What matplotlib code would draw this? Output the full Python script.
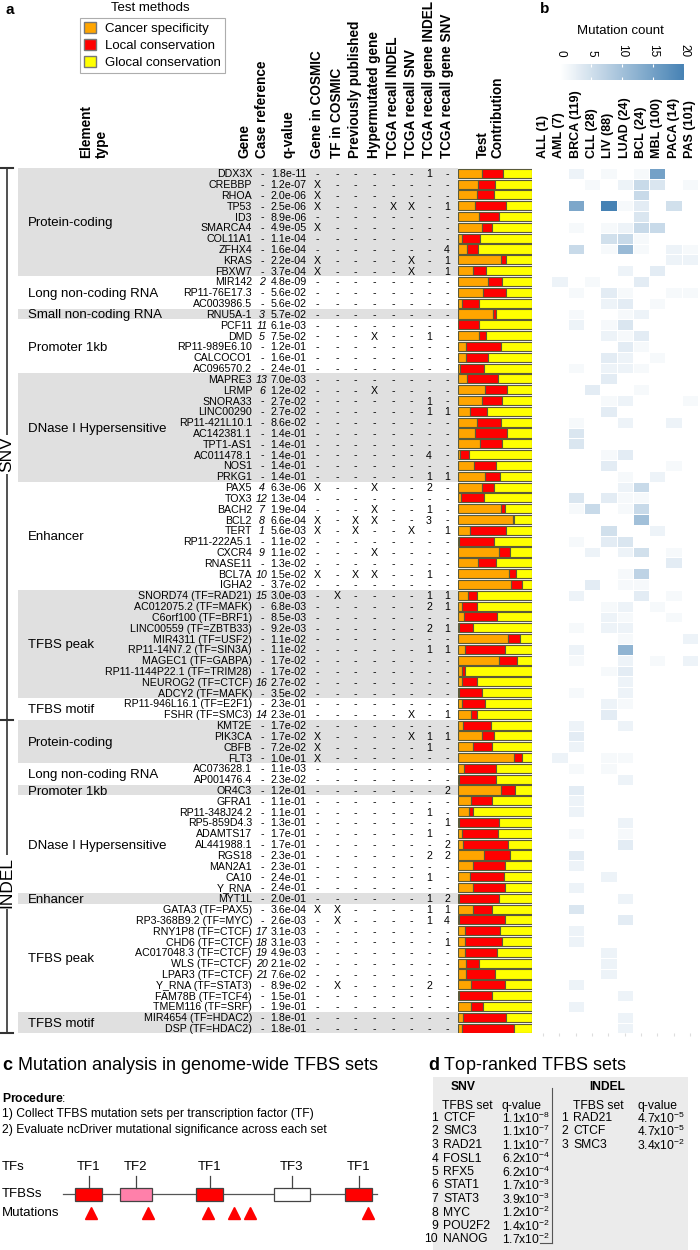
import numpy as np
import matplotlib
matplotlib.use('Agg')
import matplotlib.pyplot as plt
from matplotlib.patches import Patch, Rectangle
from matplotlib.colors import LinearSegmentedColormap

plt.rcParams['font.family'] = ['Liberation Sans', 'DejaVu Sans']
plt.rcParams['mathtext.fontset'] = 'custom'
plt.rcParams['mathtext.rm'] = 'Liberation Sans'
plt.rcParams['mathtext.it'] = 'Liberation Sans:italic'
plt.rcParams['mathtext.bf'] = 'Liberation Sans:bold'

# ---------------- data ----------------
groups_snv = [("Protein-coding", 10), ("Long non-coding RNA", 3), ("Small non-coding RNA", 1),
              ("Promoter 1kb", 5), ("DNase I Hypersensitive", 10), ("Enhancer", 10),
              ("TFBS peak", 10), ("TFBS motif", 2)]
groups_indel = [("Protein-coding", 4), ("Long non-coding RNA", 2), ("Promoter 1kb", 1),
                ("DNase I Hypersensitive", 9), ("Enhancer", 1), ("TFBS peak", 10), ("TFBS motif", 2)]

genes = ["DDX3X", "CREBBP", "RHOA", "TP53", "ID3", "SMARCA4", "COL11A1", "ZFHX4", "KRAS", "FBXW7",
         "MIR142", "RP11-76E17.3", "AC003986.5",
         "RNU5A-1",
         "PCF11", "DMD", "RP11-989E6.10", "CALCOCO1", "AC096570.2",
         "MAPRE3", "LRMP", "SNORA33", "LINC00290", "RP11-421L10.1", "AC142381.1", "TPT1-AS1",
         "AC011478.1", "NOS1", "PRKG1",
         "PAX5", "TOX3", "BACH2", "BCL2", "TERT", "RP11-222A5.1", "CXCR4", "RNASE11", "BCL7A", "IGHA2",
         "SNORD74 (TF=RAD21)", "AC012075.2 (TF=MAFK)", "C6orf100 (TF=BRF1)", "LINC00559 (TF=ZBTB33)",
         "MIR4311 (TF=USF2)", "RP11-14N7.2 (TF=SIN3A)", "MAGEC1 (TF=GABPA)", "RP11-1144P22.1 (TF=TRIM28)",
         "NEUROG2 (TF=CTCF)", "ADCY2 (TF=MAFK)",
         "RP11-946L16.1 (TF=E2F1)", "FSHR (TF=SMC3)",
         "KMT2E", "PIK3CA", "CBFB", "FLT3",
         "AC073628.1", "AP001476.4",
         "OR4C3",
         "GFRA1", "RP11-348J24.2", "RP5-859D4.3", "ADAMTS17", "AL441988.1", "RGS18", "MAN2A1", "CA10", "Y_RNA",
         "MYT1L",
         "GATA3 (TF=PAX5)", "RP3-368B9.2 (TF=MYC)", "RNY1P8 (TF=CTCF)", "CHD6 (TF=CTCF)",
         "AC017048.3 (TF=CTCF)", "WLS (TF=CTCF)", "LPAR3 (TF=CTCF)", "Y_RNA (TF=STAT3)",
         "FAM78B (TF=TCF4)", "TMEM116 (TF=SRF)",
         "MIR4654 (TF=HDAC2)", "DSP (TF=HDAC2)"]

case_ref = ["-"] * 10 + ["2", "-", "-"] + ["3"] + ["11", "5", "-", "-", "-"] + \
           ["13", "6", "-", "-", "-", "-", "-", "-", "-", "-"] + \
           ["4", "12", "7", "8", "1", "-", "9", "-", "10", "-"] + \
           ["15", "-", "-", "-", "-", "-", "-", "-", "16", "-"] + ["-", "14"] + \
           ["-"] * 4 + ["-"] * 2 + ["-"] + ["-"] * 9 + ["-"] + \
           ["-", "-", "17", "18", "19", "20", "21", "-", "-", "-"] + ["-", "-"]

qvalues = ["1.8e-11", "1.2e-07", "2.0e-06", "2.5e-06", "8.9e-06", "4.9e-05", "1.1e-04", "1.6e-04", "2.2e-04", "3.7e-04",
           "4.8e-09", "5.6e-02", "5.6e-02",
           "5.7e-02",
           "6.1e-03", "7.5e-02", "1.2e-01", "1.6e-01", "2.4e-01",
           "7.0e-03", "1.2e-02", "2.7e-02", "2.7e-02", "8.6e-02", "1.4e-01", "1.4e-01", "1.4e-01", "1.4e-01", "1.4e-01",
           "6.3e-06", "1.3e-04", "1.9e-04", "6.6e-04", "5.6e-03", "1.1e-02", "1.1e-02", "1.3e-02", "1.5e-02", "3.7e-02",
           "3.0e-03", "6.8e-03", "8.5e-03", "9.2e-03", "1.1e-02", "1.1e-02", "1.7e-02", "1.7e-02", "2.7e-02", "3.5e-02",
           "2.3e-01", "2.3e-01",
           "1.7e-02", "1.7e-02", "7.2e-02", "1.0e-01",
           "1.1e-03", "2.3e-02",
           "1.2e-01",
           "1.1e-01", "1.1e-01", "1.3e-01", "1.7e-01", "1.7e-01", "2.3e-01", "2.3e-01", "2.4e-01", "2.4e-01",
           "2.0e-01",
           "3.6e-04", "2.6e-03", "3.1e-03", "3.1e-03", "4.9e-03", "2.1e-02", "7.6e-02", "8.9e-02", "1.5e-01", "1.9e-01",
           "1.8e-01", "1.8e-01"]

# Gene in COSMIC, TF in COSMIC, Prev. published, Hypermutated, TCGA INDEL, TCGA SNV, TCGA gene INDEL, TCGA gene SNV
flags = ["------1-", "X-------", "X-------", "X---XX-1", "--------", "X-------", "--------", "-------4",
         "X----X-1", "X----X-1",
         "--------", "--------", "--------",
         "--------",
         "--------", "---X--1-", "--------", "--------", "--------",
         "--------", "---X----", "------1-", "------11", "--------", "--------", "--------", "------4-",
         "--------", "------11",
         "X--X--2-", "--------", "---X--1-", "X-XX--3-", "X-X--X-1", "--------", "---X----", "--------",
         "X-XX--1-", "--------",
         "-X----11", "------21", "--------", "------21", "--------", "------11", "--------", "--------",
         "--------", "--------",
         "--------", "-----X-1",
         "--------", "X----X11", "X-----1-", "X-------",
         "--------", "--------",
         "-------2",
         "--------", "------1-", "-------1", "------1-", "-------2", "------22", "--------", "------1-", "--------",
         "------12",
         "XX----11", "-X----14", "--------", "-------1", "--------", "--------", "--------", "-X----2-",
         "--------", "--------",
         "--------", "--------"]

flag_headers = ["Gene in COSMIC", "TF in COSMIC", "Previously published", "Hypermutated gene",
                "TCGA recall INDEL", "TCGA recall SNV", "TCGA recall gene INDEL", "TCGA recall gene SNV"]

# test contribution fractions
cancer_spec = [0.32, 0.27, 0.26, 0.23, 0.28, 0.32, 0.05, 0.12, 0.58, 0.20,
               0.41, 0.34, 0.05,
               0.47,
               0.00, 0.28, 0.11, 0.11, 0.03,
               0.12, 0.37, 0.32, 0.16, 0.26, 0.23, 0.30, 0.03, 0.22, 0.37,
               0.32, 0.04, 0.58, 0.74, 0.16, 0.01, 0.55, 0.27, 0.69, 0.72,
               0.14, 0.06, 0.08, 0.01, 0.68, 0.10, 0.56, 0.05, 0.05, 0.01,
               0.05, 0.17,
               0.07, 0.32, 0.20, 0.76,
               0.08, 0.02,
               0.58,
               0.17, 0.15, 0.01, 0.06, 0.07, 0.35, 0.20, 0.16, 0.20,
               0.01,
               0.20, 0.02, 0.10, 0.09, 0.09, 0.11, 0.11, 0.17, 0.02, 0.17,
               0.07, 0.06]
local_cons = [0.29, 0.23, 0.22, 0.42, 0.28, 0.14, 0.25, 0.15, 0.07, 0.18,
              0.18, 0.31, 0.24,
              0.05,
              0.28, 0.10, 0.47, 0.29, 0.32,
              0.42, 0.29, 0.27, 0.23, 0.32, 0.43, 0.30, 0.12, 0.29, 0.20,
              0.16, 0.31, 0.05, 0.02, 0.49, 0.48, 0.15, 0.25, 0.10, 0.14,
              0.11, 0.20, 0.45, 0.19, 0.16, 0.54, 0.24, 0.05, 0.21, 0.32,
              0.31, 0.08,
              0.37, 0.16, 0.26, 0.10,
              0.43, 0.50,
              0.19,
              0.29, 0.05, 0.54, 0.48, 0.61, 0.35, 0.44, 0.46, 0.44,
              0.54,
              0.26, 0.62, 0.47, 0.51, 0.44, 0.17, 0.39, 0.46, 0.44, 0.17,
              0.58, 0.69]

cohorts = ["ALL (1)", "AML (7)", "BRCA (119)", "CLL (28)", "LIV (88)", "LUAD (24)",
           "BCL (24)", "MBL (100)", "PACA (14)", "PAS (101)"]
mut_counts = [
    [0, 0, 2, 0, 1, 0, 1, 15, 0, 0], [0, 0, 0, 1, 0, 2, 6, 4, 0, 1], [0, 0, 0, 0, 0, 0, 6, 0, 0, 0],
    [0, 0, 14, 0, 20, 1, 3, 0, 5, 0], [0, 0, 0, 0, 0, 0, 4, 0, 0, 0], [0, 0, 1, 0, 1, 2, 6, 6, 0, 0],
    [0, 0, 0, 0, 5, 6, 1, 0, 0, 0], [0, 0, 6, 0, 1, 11, 1, 0, 2, 1], [0, 0, 0, 0, 0, 0, 0, 0, 2, 2],
    [0, 0, 0, 0, 0, 2, 0, 3, 0, 0],
    [0, 2, 0, 1, 0, 0, 3, 0, 0, 0], [0, 0, 1, 0, 3, 1, 0, 0, 1, 1], [0, 0, 0, 0, 2, 3, 0, 1, 0, 0],
    [0, 0, 1, 0, 0, 1, 2, 0, 0, 0],
    [0, 0, 2, 0, 1, 4, 0, 0, 0, 0], [0, 0, 0, 0, 2, 1, 3, 0, 0, 0], [0, 0, 0, 0, 0, 3, 1, 0, 0, 0],
    [0, 0, 0, 0, 3, 2, 0, 1, 0, 0], [0, 0, 1, 0, 2, 2, 1, 0, 0, 0],
    [0, 0, 0, 0, 3, 0, 0, 0, 0, 0], [0, 0, 0, 3, 0, 0, 1, 0, 0, 0], [0, 0, 0, 0, 1, 2, 0, 0, 0, 1],
    [0, 0, 0, 0, 3, 0, 0, 0, 0, 0], [0, 0, 1, 0, 0, 2, 0, 0, 2, 0], [0, 0, 4, 0, 0, 0, 0, 0, 0, 0],
    [0, 0, 4, 0, 0, 0, 0, 0, 0, 0], [0, 0, 0, 0, 1, 3, 0, 0, 0, 0], [0, 0, 0, 0, 3, 0, 0, 0, 1, 0],
    [0, 0, 0, 0, 0, 1, 0, 2, 0, 0],
    [0, 0, 0, 0, 0, 2, 6, 0, 0, 0], [0, 0, 4, 0, 3, 1, 1, 0, 0, 0], [0, 0, 1, 6, 0, 1, 6, 0, 0, 0],
    [0, 0, 0, 0, 0, 0, 10, 0, 0, 0], [0, 0, 0, 0, 5, 0, 0, 2, 0, 0], [0, 0, 1, 0, 3, 4, 0, 0, 0, 0],
    [0, 0, 0, 2, 0, 2, 5, 0, 1, 0], [0, 0, 0, 0, 0, 0, 0, 0, 3, 0], [0, 0, 0, 0, 0, 1, 7, 0, 0, 0],
    [0, 0, 0, 3, 0, 1, 1, 0, 0, 0],
    [0, 0, 2, 0, 0, 0, 3, 0, 1, 0], [0, 0, 0, 0, 1, 2, 0, 1, 0, 0], [0, 0, 0, 0, 2, 1, 0, 0, 1, 0],
    [0, 0, 1, 0, 2, 2, 0, 0, 0, 0], [0, 0, 0, 0, 0, 1, 0, 0, 0, 2], [0, 0, 2, 0, 0, 12, 0, 0, 0, 0],
    [0, 0, 1, 0, 0, 2, 0, 1, 0, 2], [0, 0, 0, 0, 1, 3, 0, 0, 0, 0], [0, 0, 0, 0, 0, 2, 0, 0, 0, 0],
    [0, 0, 1, 0, 0, 2, 0, 0, 0, 0],
    [0, 0, 0, 0, 2, 1, 0, 0, 0, 0], [0, 0, 0, 0, 3, 0, 0, 0, 0, 0],
    [0, 0, 2, 0, 0, 2, 0, 0, 0, 0], [0, 0, 3, 0, 0, 0, 0, 0, 0, 0], [0, 0, 2, 0, 0, 0, 0, 0, 0, 0],
    [0, 2, 0, 0, 1, 1, 0, 0, 0, 0],
    [0, 0, 1, 0, 1, 0, 0, 0, 0, 0], [0, 0, 0, 0, 0, 2, 0, 0, 0, 0],
    [0, 0, 3, 0, 0, 0, 0, 0, 0, 0],
    [0, 0, 2, 0, 0, 0, 0, 0, 0, 0], [0, 0, 2, 0, 0, 0, 0, 0, 0, 0], [0, 0, 0, 0, 0, 2, 0, 0, 0, 0],
    [0, 0, 1, 0, 0, 1, 0, 0, 0, 0], [0, 0, 0, 0, 0, 3, 0, 0, 0, 0], [0, 0, 3, 0, 0, 0, 0, 0, 0, 0],
    [0, 0, 2, 0, 0, 0, 0, 0, 0, 0], [0, 0, 0, 0, 2, 0, 0, 0, 0, 0], [0, 0, 2, 0, 0, 0, 0, 0, 0, 0],
    [0, 0, 0, 0, 0, 2, 0, 0, 0, 0],
    [0, 0, 4, 0, 0, 0, 0, 0, 0, 0], [0, 0, 0, 0, 0, 3, 0, 0, 0, 0], [0, 0, 2, 0, 0, 0, 0, 0, 0, 0],
    [0, 0, 2, 0, 0, 0, 0, 0, 0, 0], [0, 0, 0, 0, 2, 0, 0, 0, 0, 0], [0, 0, 0, 0, 2, 0, 0, 0, 0, 0],
    [0, 0, 0, 0, 2, 0, 0, 0, 0, 0], [0, 0, 2, 0, 0, 0, 0, 0, 0, 0], [0, 0, 0, 0, 0, 2, 0, 0, 0, 0],
    [0, 0, 2, 0, 0, 0, 0, 0, 0, 0],
    [0, 0, 0, 0, 0, 2, 0, 0, 0, 0], [0, 0, 0, 0, 0, 2, 0, 0, 0, 0]]

# panel c schematic
tf_names = ["TF1", "TF2", "TF1", "TF3", "TF1"]
site_start = [75, 120, 196, 274, 345]
site_end = [102, 152, 223, 310, 372]
mutation_pos = [91, 148, 208, 234, 250, 368]

# panel d table
snv_sets = ["CTCF", "SMC3", "RAD21", "FOSL1", "RFX5", "STAT1", "STAT3", "MYC", "POU2F2", "NANOG"]
snv_q = [(1.1, -8), (1.1, -7), (1.1, -7), (6.2, -4), (6.2, -4), (1.7, -3), (3.9, -3), (1.2, -2), (1.4, -2), (1.7, -2)]
indel_sets = ["RAD21", "CTCF", "SMC3"]
indel_q = [(4.7, -5), (4.7, -5), (3.4, -2)]

# ---------------- layout helpers ----------------
W, H = 700, 1250
def fx(px): return px / W
def fy(py): return 1 - py / H

ROW0, ROWH = 173.3, 10.82
n = len(genes)
top_px = ROW0 - ROWH / 2
bot_px = ROW0 + ROWH * (n - 1) + ROWH / 2

fig = plt.figure(figsize=(7, 12.5), dpi=100)
fig.patch.set_facecolor('white')

# ---------------- panel a: table ----------------
ax = fig.add_axes([0, fy(bot_px), fx(458), (bot_px - top_px) / H])
ax.set_xlim(0, 458)
ax.set_ylim(n - 0.5, -0.5)
ax.axis('off')

fs = 7.7
groups = groups_snv + groups_indel
start = 0
for k, (name, cnt) in enumerate(groups):
    if k % 2 == 0:
        ax.add_patch(Rectangle((18, start - 0.5), 440, cnt, facecolor='#E0E0E0', edgecolor='none', zorder=0))
    ax.text(28, start + (cnt - 1) / 2, name, ha='left', va='center_baseline', fontsize=9.5)
    start += cnt

flag_x = [317, 337, 355, 374, 393, 411, 429, 447]
for i in range(n):
    ax.text(252, i, genes[i], ha='right', va='center_baseline', fontsize=fs)
    ax.text(262, i, case_ref[i], ha='center', va='center_baseline', fontsize=fs,
            style='italic' if case_ref[i] != '-' else 'normal')
    ax.text(288.5, i, qvalues[i], ha='center', va='center_baseline', fontsize=fs)
    for j, ch in enumerate(flags[i]):
        ax.text(flag_x[j], i, ch, ha='center', va='center_baseline', fontsize=fs)

# SNV / INDEL brackets
n_snv = sum(c for _, c in groups_snv)
ax.plot([7, 7], [-0.5, n - 0.5], color='#333333', lw=1.2, clip_on=False)
for yb in [-0.5, n_snv - 0.5, n - 0.5]:
    ax.plot([0, 13], [yb, yb], color='#333333', lw=1.5, clip_on=False)
ax.text(7, (n_snv - 1) / 2 + 1, "SNV", rotation=90, ha='center', va='center', fontsize=12.5,
        bbox=dict(facecolor='white', edgecolor='none', pad=1))
ax.text(7, n_snv + (n - n_snv - 1) / 2 + 0.5, "INDEL", rotation=90, ha='center', va='center', fontsize=12.5,
        bbox=dict(facecolor='white', edgecolor='none', pad=1))

# headers
hfs = 9.8
fig.text(fx(94), fy(158), "Element\ntype", rotation=90, ha='center', va='bottom', fontsize=hfs,
         fontweight='bold', multialignment='left', linespacing=1.1)
fig.text(fx(245), fy(158), "Gene", rotation=90, ha='center', va='bottom', fontsize=hfs, fontweight='bold')
fig.text(fx(262), fy(158), "Case reference", rotation=90, ha='center', va='bottom', fontsize=hfs, fontweight='bold')
fig.text(fx(288), fy(158), "q-value", rotation=90, ha='center', va='bottom', fontsize=hfs, fontweight='bold')
for xh, lab in zip(flag_x, flag_headers):
    fig.text(fx(xh), fy(158), lab, rotation=90, ha='center', va='bottom', fontsize=hfs, fontweight='bold')
fig.text(fx(490), fy(158), "Test\nContribution", rotation=90, ha='center', va='bottom', fontsize=hfs,
         fontweight='bold', multialignment='left', linespacing=1.1)

# legend
fig.text(fx(150), fy(8), "Test methods", ha='center', va='center', fontsize=9.5)
handles = [Patch(facecolor='#FFA500', edgecolor='#777777'),
           Patch(facecolor='#FF0000', edgecolor='#777777'),
           Patch(facecolor='#FFFF00', edgecolor='#777777')]
leg = fig.legend(handles, ["Cancer specificity", "Local conservation", "Glocal conservation"],
                 loc='upper left', bbox_to_anchor=(fx(80), fy(18)), fontsize=9.5, frameon=True,
                 fancybox=False, edgecolor='#999999', handlelength=0.9, handleheight=0.9,
                 handletextpad=0.7, labelspacing=0.3, borderpad=0.3, borderaxespad=0)
leg.get_frame().set_linewidth(0.8)

fig.text(fx(5), fy(10), "a", ha='left', va='center', fontsize=11, fontweight='bold')

# ---------------- test contribution bars ----------------
axb = fig.add_axes([fx(458), fy(bot_px), fx(74), (bot_px - top_px) / H])
cs = np.array(cancer_spec)
lc = np.array(local_cons)
gc = 1 - cs - lc
rows = np.arange(n)
bkw = dict(height=0.84, edgecolor='#5A5A3A', linewidth=0.8)
axb.barh(rows, cs, color='#FFA500', **bkw)
axb.barh(rows, lc, left=cs, color='#FF0000', **bkw)
axb.barh(rows, gc, left=cs + lc, color='#FFFF00', **bkw)
axb.set_xlim(0, 1)
axb.set_ylim(n - 0.5, -0.5)
axb.axis('off')

# ---------------- panel b: heatmap ----------------
cmap = LinearSegmentedColormap.from_list('mc', ['#FFFFFF', '#4682B4'])
mc = np.array(mut_counts)
axh = fig.add_axes([fx(535), fy(bot_px), fx(163), (bot_px - top_px) / H])
mesh = axh.pcolormesh(np.arange(11) - 0.5, np.arange(n + 1) - 0.5, mc, cmap=cmap, vmin=0, vmax=mc.max(),
                      edgecolors='white', linewidth=0.4)
axh.set_xlim(-0.5, 9.5)
axh.set_ylim(n - 0.5, -0.5)
for s in axh.spines.values():
    s.set_visible(False)
axh.set_yticks([])
axh.set_xticks(range(len(cohorts)))
axh.set_xticklabels(cohorts, rotation=90, fontsize=9, fontweight='bold')
axh.tick_params(axis='x', top=False, labeltop=True, bottom=True, labelbottom=False,
                length=2, color='#DDDDDD', pad=5)

cax = fig.add_axes([fx(560), fy(80), fx(124), 16 / H])
cb = fig.colorbar(mesh, cax=cax, orientation='horizontal')
cb.outline.set_visible(False)
cb.set_ticks([0, 5, 10, 15, 20])
cax.xaxis.set_ticks_position('top')
cax.tick_params(length=0, labelsize=8.5, pad=5)
for t in cax.get_xticklabels():
    t.set_rotation(270)
    t.set_va('bottom')
cax.vlines([5, 10, 15, 20], 0, 0.2, colors='white', lw=0.8)
cax.vlines([5, 10, 15, 20], 0.8, 1, colors='white', lw=0.8)
fig.text(fx(620), fy(31), "Mutation count", ha='center', va='center', fontsize=9.5)
fig.text(fx(540), fy(9), "b", ha='left', va='center', fontsize=11, fontweight='bold')

# ---------------- panel c ----------------
fig.text(fx(2), fy(1065), r"$\bf{c}$ Mutation analysis in genome-wide TFBS sets", ha='left', va='center', fontsize=13)
fig.text(fx(2), fy(1098), r"$\bf{Procedure}$:", ha='left', va='center', fontsize=8.7)
fig.text(fx(2), fy(1114), "1) Collect TFBS mutation sets per transcription factor (TF)", ha='left', va='center', fontsize=8.7)
fig.text(fx(2), fy(1130), "2) Evaluate ncDriver mutational significance across each set", ha='left', va='center', fontsize=8.7)

axc = fig.add_axes([0, 0, fx(415), (1250 - 1150) / H])
axc.set_xlim(0, 415)
axc.set_ylim(1250, 1150)
axc.axis('off')
axc.text(2, 1167, "TFs", ha='left', va='center', fontsize=9.5)
axc.text(2, 1194, "TFBSs", ha='left', va='center', fontsize=9.5)
axc.text(2, 1213, "Mutations", ha='left', va='center', fontsize=9.5)
axc.plot([63, 377], [1194, 1194], color='#555555', lw=0.9, zorder=1)
tf_colors = {"TF1": '#FF0000', "TF2": '#FF80AA', "TF3": '#FFFFFF'}
for name, s, e in zip(tf_names, site_start, site_end):
    axc.add_patch(Rectangle((s, 1188), e - s, 13, facecolor=tf_colors[name], edgecolor='#444444', lw=0.9, zorder=2))
    mid = (s + e) / 2
    axc.plot([mid, mid], [1188, 1176], color='#444444', lw=0.9)
    axc.text(mid, 1167, name, ha='center', va='center', fontsize=9.5)
axc.plot(mutation_pos, [1213] * len(mutation_pos), linestyle='none', marker='^', color='#FF0000', markersize=8)

# ---------------- panel d ----------------
fig.text(fx(428), fy(1065), r"$\bf{d}$ Top-ranked TFBS sets", ha='left', va='center', fontsize=13)
axd = fig.add_axes([fx(433), 0, fx(255), (1250 - 1077) / H])
axd.set_xlim(433, 688)
axd.set_ylim(1250, 1077)
axd.set_facecolor('#EBEBEB')
for s in axd.spines.values():
    s.set_visible(False)
axd.set_xticks([])
axd.set_yticks([])
tfs = 8.7
axd.text(463, 1087, "SNV", ha='center', va='center', fontsize=tfs, fontweight='bold')
axd.text(607, 1087, "INDEL", ha='center', va='center', fontsize=tfs, fontweight='bold')
axd.text(442, 1106, "TFBS set", ha='left', va='center', fontsize=tfs)
axd.text(501, 1106, "q-value", ha='left', va='center', fontsize=tfs)
axd.text(573, 1106, "TFBS set", ha='left', va='center', fontsize=tfs)
axd.text(637, 1106, "q-value", ha='left', va='center', fontsize=tfs)
axd.plot([552, 552], [1088, 1243], color='#555555', lw=0.8)
axd.plot([540, 552], [1243, 1243], color='#555555', lw=0.8)
for i, (nm, (m, e)) in enumerate(zip(snv_sets, snv_q)):
    yy = 1118 + 13.5 * i
    axd.text(438, yy, str(i + 1), ha='right', va='center', fontsize=tfs)
    axd.text(443, yy, nm, ha='left', va='center', fontsize=tfs)
    axd.text(502, yy, "%.1fx10$^{%d}$" % (m, e), ha='left', va='center', fontsize=tfs)
for i, (nm, (m, e)) in enumerate(zip(indel_sets, indel_q)):
    yy = 1118 + 13.5 * i
    axd.text(568, yy, str(i + 1), ha='right', va='center', fontsize=tfs)
    axd.text(573, yy, nm, ha='left', va='center', fontsize=tfs)
    axd.text(637, yy, "%.1fx10$^{%d}$" % (m, e), ha='left', va='center', fontsize=tfs)

fig.savefig("out.png", dpi=100)
